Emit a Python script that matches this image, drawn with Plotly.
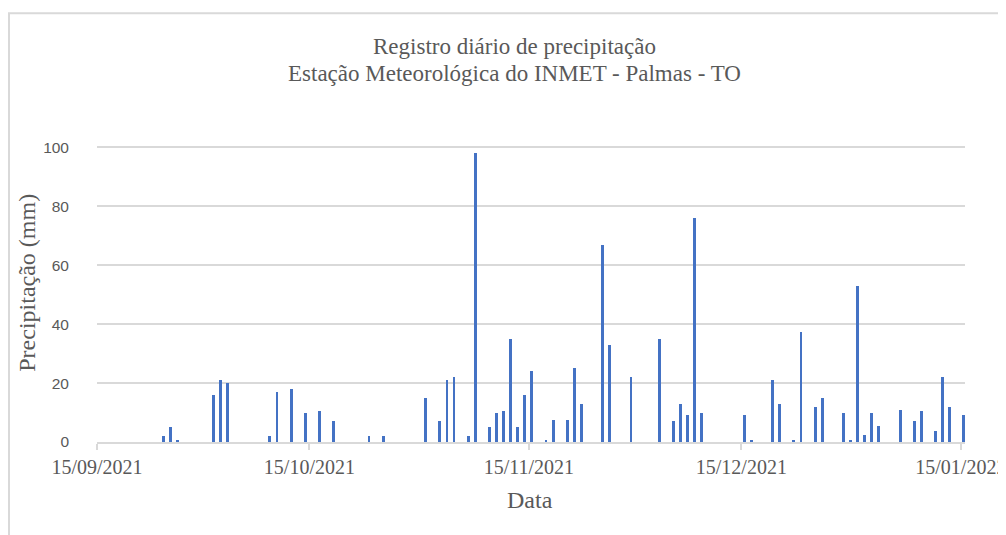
import pandas as pd
import plotly.graph_objects as go

# Daily precipitation (mm) - INMET Palmas-TO
dates = [
    "2021-09-24", "2021-09-25", "2021-09-26", "2021-10-01", "2021-10-02", "2021-10-03",
    "2021-10-09", "2021-10-10", "2021-10-12", "2021-10-14", "2021-10-16", "2021-10-18",
    "2021-10-23", "2021-10-25", "2021-10-31", "2021-11-02", "2021-11-03", "2021-11-04",
    "2021-11-06", "2021-11-07", "2021-11-09", "2021-11-10", "2021-11-11", "2021-11-12",
    "2021-11-13", "2021-11-14", "2021-11-15", "2021-11-17", "2021-11-18", "2021-11-20",
    "2021-11-21", "2021-11-22", "2021-11-25", "2021-11-26", "2021-11-29", "2021-12-03",
    "2021-12-05", "2021-12-06", "2021-12-07", "2021-12-08", "2021-12-09", "2021-12-15",
    "2021-12-16", "2021-12-19", "2021-12-20", "2021-12-22", "2021-12-23", "2021-12-25",
    "2021-12-26", "2021-12-29", "2021-12-30", "2021-12-31", "2022-01-01", "2022-01-02",
    "2022-01-03", "2022-01-06", "2022-01-08", "2022-01-09", "2022-01-11", "2022-01-12",
    "2022-01-13", "2022-01-15",
]
precip_mm = [
    2, 5, 0.4, 16, 21, 20,
    2, 17, 18, 10, 10.5, 7,
    2, 2, 15, 7, 21, 22,
    2, 98, 5, 10, 10.5, 35,
    5, 16, 24, 0.5, 7.5, 7.5,
    25, 13, 67, 33, 22, 35,
    7, 13, 9, 76, 10, 9,
    0.5, 21, 13, 0.6, 37.5, 12,
    15, 10, 0.5, 53, 2.5, 10,
    5.5, 11, 7, 10.5, 3.7, 22,
    12, 9,
]
tick_dates = ["2021-09-15", "2021-10-15", "2021-11-15", "2021-12-15", "2022-01-15"]
tick_labels = ["15/09/2021", "15/10/2021", "15/11/2021", "15/12/2021", "15/01/2022"]
y_ticks = [0, 20, 40, 60, 80, 100]

title_line1 = "Registro diário de precipitação"
title_line2 = "Estação Meteorológica do INMET - Palmas - TO"
x_title = "Data"
y_title = "Precipitação (mm)"

# bars sit in the middle of their day slot
x_vals = pd.to_datetime(dates) + pd.Timedelta(hours=10)

TXT = "#595959"
GRID = "#d9d9d9"
SERIF = "Liberation Serif, Times New Roman, serif"
SANS = "Liberation Sans, Arial, sans-serif"

# page body has an 8px margin: work in page coordinates, then shift
OFF = 8
W, H = 1006 - OFF, 535 - OFF
L, R, T, B = 97 - OFF, 1006 - 965, 146 - OFF, 535 - 442.5
pw, ph = W - L - R, H - T - B


def px_x(x):  # page x -> paper x
    return (x - OFF - L) / pw


def px_y(y):  # page y -> paper y
    return (T + ph - (y - OFF)) / ph


fig = go.Figure()
fig.add_trace(go.Bar(
    x=x_vals, y=precip_mm,
    marker=dict(color="#4472C4", line=dict(width=0)),
    width=0.4 * 86400000,
    hoverinfo="x+y",
))

fig.update_layout(
    width=W, height=H,
    autosize=False,
    margin=dict(l=L, r=R, t=T, b=B, autoexpand=False),
    paper_bgcolor="white", plot_bgcolor="white",
    showlegend=False,
    bargap=0,
    xaxis=dict(
        type="date",
        automargin=False,
        range=[pd.Timestamp("2021-09-15"), pd.Timestamp("2022-01-15") + pd.Timedelta(hours=14)],
        tickvals=pd.to_datetime(tick_dates),
        ticktext=tick_labels,
        ticks="outside", ticklen=6, tickwidth=1.5, tickcolor=GRID,
        ticklabeloverflow="allow",
        showgrid=False,
        showline=True, linecolor=GRID, linewidth=1.5,
        tickfont=dict(family=SERIF, size=20, color=TXT),
        zeroline=False,
    ),
    yaxis=dict(
        automargin=False,
        range=[0, 100.5],
        tickvals=y_ticks,
        showgrid=True, gridcolor=GRID, gridwidth=1.5,
        zeroline=False, showline=False,
        ticks="", ticklabelstandoff=27,
        tickfont=dict(family=SANS, size=15.5, color=TXT),
    ),
    annotations=[
        dict(text=title_line1, xref="paper", yref="paper",
             x=px_x(514), y=px_y(46),
             xanchor="center", yanchor="middle", showarrow=False,
             font=dict(family=SERIF, size=23, color=TXT)),
        dict(text=title_line2, xref="paper", yref="paper",
             x=px_x(514), y=px_y(73),
             xanchor="center", yanchor="middle", showarrow=False,
             font=dict(family=SERIF, size=23, color=TXT)),
        dict(text=x_title, xref="paper", yref="paper",
             x=px_x(530), y=px_y(501),
             xanchor="center", yanchor="middle", showarrow=False,
             font=dict(family=SERIF, size=24, color=TXT)),
        dict(text=y_title, xref="paper", yref="paper",
             x=px_x(27), y=px_y(283),
             xanchor="center", yanchor="middle", textangle=-90, showarrow=False,
             font=dict(family=SERIF, size=24, color=TXT)),
    ],
    shapes=[
        dict(type="rect", xref="paper", yref="paper",
             x0=px_x(9), x1=px_x(1040),
             y0=px_y(570), y1=px_y(13),
             line=dict(color=GRID, width=2), fillcolor="rgba(0,0,0,0)", layer="below"),
    ],
)

fig.write_html("out.html")
